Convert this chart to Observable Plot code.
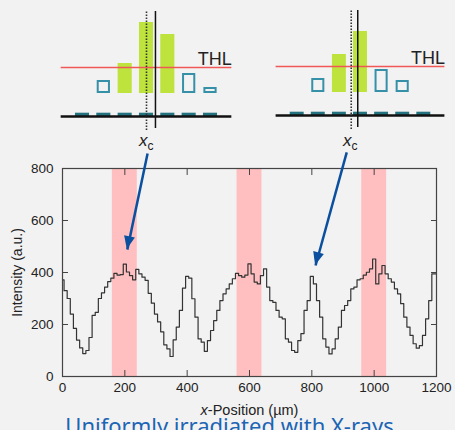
<!DOCTYPE html>
<html><head><meta charset="utf-8">
<script src="https://cdn.jsdelivr.net/npm/d3@7"></script>
<script src="https://cdn.jsdelivr.net/npm/@observablehq/plot@0.6"></script>
<style>
body{margin:0;background:#f2f2f2;}
#wrap{position:relative;width:455px;height:430px;overflow:hidden;background:#f2f2f2;font-family:"Liberation Sans",Arial,sans-serif;}
#wrap svg{position:absolute;top:0;}
.xc{position:absolute;font-size:17px;line-height:17px;color:#222;white-space:nowrap;}
.xc i{font-style:italic;}
.xc sub{font-size:12px;vertical-align:-4px;line-height:0;}
#cap{position:absolute;left:2px;width:455px;top:414px;text-align:center;font-family:"Noto Sans","Open Sans",sans-serif;font-size:22px;line-height:22px;color:#1c64b4;white-space:nowrap;}
</style>
</head><body>
<div id="wrap"></div>
<script>
// ---- main profile data (x-position in µm, 10 µm steps) ----
const stepUm = 10;
const intensity = [
  372,330,300,240,185,140,110,88,100,150,
  235,247,300,322,344,365,378,397,390,392,
  432,402,388,372,412,395,382,370,320,282,
  240,210,172,122,106,77,141,190,254,340,
  385,378,299,228,145,132,97,138,177,215,
  254,292,318,337,356,376,397,388,382,390,
  433,395,363,356,388,414,344,292,285,254,
  228,222,145,132,100,93,138,165,254,292,
  385,356,292,228,145,113,87,106,145,190,
  254,273,292,337,344,372,376,390,401,414,
  452,356,395,427,395,376,363,337,318,280,
  228,190,158,126,109,119,158,222,292,395,
  395
];
const bandStart = [160, 560, 960];
const bandEnd   = [240, 640, 1040];
const xTicks = [0, 200, 400, 600, 800, 1000, 1200];
const yTicks = [0, 200, 400, 600, 800];
const arrowX1 = [273, 912];
const arrowY1 = [858, 862];
const arrowX2 = [208, 812];
const arrowY2 = [488, 427];

// ---- schematic data ----
const pixelIndex = [1, 2, 3, 4, 5, 6, 7];
const heightsA = [0, 13, 30, 71, 59, 20, 6];
const heightsB = [0, 14, 38, 61, 23, 12, 0];
const thl = 26;
const baseLevel = -23;
const xcA = 4.0, lineA = 4.42;
const xcB = 3.56, lineB = 3.87;

const profile = intensity.map((v, i) => ({x: i * stepUm, y: v}));
const bands = bandStart.map((s, i) => ({x1: s, x2: bandEnd[i]}));
const arrows = arrowX1.map((v, i) => ({x1: v, y1: arrowY1[i], x2: arrowX2[i], y2: arrowY2[i]}));

const wrap = document.getElementById("wrap");
const font = "Liberation Sans, Arial, Helvetica, sans-serif";
const fmt = d => String(d);
const arrowColor = "#0b4f9f";

const main = Plot.plot({
  width: 455, height: 430,
  marginTop: 168, marginBottom: 54, marginLeft: 62, marginRight: 19,
  style: {background: "transparent", fontFamily: font, fontSize: "13px", color: "#222", overflow: "visible"},
  x: {domain: [0, 1200]},
  y: {domain: [0, 800]},
  marks: [
    Plot.rect(bands, {x1: "x1", x2: "x2", fill: "#ffbfc1"}),
    Plot.line(profile, {x: "x", y: "y", curve: "step", stroke: "#333", strokeWidth: 1.2}),
    Plot.frame({stroke: "#444", strokeWidth: 1.2}),
    Plot.axisX(xTicks, {anchor: "bottom", tickSize: 0, tickPadding: 6, tickFormat: fmt, fontSize: 13.5, label: null}),
    Plot.axisX(xTicks, {anchor: "bottom", tickSize: 0, tickFormat: () => "", fontSize: 14.5, label: "x-Position (µm)", labelAnchor: "center", labelOffset: 38, labelArrow: "none"}),
    Plot.axisX(xTicks, {anchor: "bottom", tickSize: -6, tickFormat: () => "", label: null, stroke: "#444"}),
    Plot.axisX(xTicks, {anchor: "top", tickSize: -6, tickFormat: () => "", label: null, stroke: "#444"}),
    Plot.axisY(yTicks, {anchor: "left", tickSize: 0, tickPadding: 9, tickFormat: fmt, fontSize: 13.5, label: null}),
    Plot.axisY(yTicks, {anchor: "left", tickSize: 0, tickFormat: () => "", fontSize: 14, label: "Intensity (a.u.)", labelAnchor: "center", labelOffset: 50, labelArrow: "none"}),
    Plot.axisY(yTicks, {anchor: "left", tickSize: -6, tickFormat: () => "", label: null, stroke: "#444"}),
    Plot.axisY(yTicks, {anchor: "right", tickSize: -6, tickFormat: () => "", label: null, stroke: "#444"}),
    Plot.link(arrows, {x1: "x1", y1: "y1", x2: "x2", y2: "y2", stroke: arrowColor, strokeWidth: 2.5})
  ]
});
main.style.left = "0px";
wrap.appendChild(main);
d3.select(main).selectAll("text").each(function() {
  if (this.textContent === "x-Position (µm)") {
    this.innerHTML = '<tspan font-style="italic">x</tspan>-Position (µm)';
  }
});
// filled arrowheads placed through the plot's own scales
{
  const sx = main.scale("x"), sy = main.scale("y");
  const g = d3.select(main).append("g").attr("fill", arrowColor);
  for (const a of arrows) {
    const ax = sx.apply(a.x1), ay = sy.apply(a.y1), bx = sx.apply(a.x2), by = sy.apply(a.y2);
    const ang = Math.atan2(by - ay, bx - ax);
    const L = 13, W = 5.5;
    const px = bx - L * Math.cos(ang), py = by - L * Math.sin(ang);
    const nx = -Math.sin(ang) * W, ny = Math.cos(ang) * W;
    g.append("polygon").attr("points", `${bx},${by} ${px + nx},${py + ny} ${px - nx},${py - ny}`);
  }
}

function schematic(heights, xc, xl, w, ml, mr, mt, mb) {
  const data = pixelIndex.map((p, i) => ({p, h: heights[i]})).filter(d => d.h > 0);
  return Plot.plot({
    width: w, height: 160,
    marginLeft: ml, marginRight: mr, marginTop: mt, marginBottom: mb,
    style: {background: "transparent", fontFamily: font, overflow: "visible"},
    x: {domain: [1, 7], axis: null},
    y: {domain: [-40, 90], axis: null},
    marks: [
      Plot.rect(pixelIndex, {x1: d => d - 0.33, x2: d => d + 0.33, y1: baseLevel, y2: baseLevel + 3.3, fill: "#23727f"}),
      Plot.ruleY([baseLevel], {x1: 0, x2: 8, stroke: "#111", strokeWidth: 2.3}),
      Plot.rect(data.filter(d => d.h > thl), {x1: d => d.p - 0.33, x2: d => d.p + 0.33, y1: 0, y2: "h", fill: "#bde33c"}),
      Plot.rect(data.filter(d => d.h <= thl), {x1: d => d.p - 0.31, x2: d => d.p + 0.31, y1: 0, y2: "h", fill: "none", stroke: "#3590a8", strokeWidth: 2, inset: 1}),
      Plot.ruleY([thl], {x1: 0, x2: 8, stroke: "#f25757", strokeWidth: 1.6}),
      Plot.ruleX([xc], {y1: -37, y2: 83, stroke: "#333", strokeWidth: 1.6, strokeDasharray: "1.5,1.5"}),
      Plot.ruleX([xl], {y1: -35, y2: 82, stroke: "#111", strokeWidth: 1.5}),
      Plot.text(["THL"], {x: 8, y: thl, dy: -3, text: d => d, textAnchor: "end", lineAnchor: "bottom", fontSize: 18, fill: "#222"})
    ]
  });
}

const sa = schematic(heightsA, xcA, lineA, 240, 82, 30, 3, 27);
sa.style.left = "0px";
wrap.appendChild(sa);
const sb = schematic(heightsB, xcB, lineB, 215, 56.7, 31.7, 2, 28);
sb.style.left = "240px";
wrap.appendChild(sb);

function addXc(left) {
  const d = document.createElement("div");
  d.className = "xc";
  d.style.left = left + "px";
  d.style.top = "132px";
  d.innerHTML = "<i>x</i><sub>c</sub>";
  wrap.appendChild(d);
}
addXc(139);
addXc(343);

const cap = document.createElement("div");
cap.id = "cap";
cap.textContent = "Uniformly irradiated with X-rays";
wrap.appendChild(cap);
</script>
</body></html>
